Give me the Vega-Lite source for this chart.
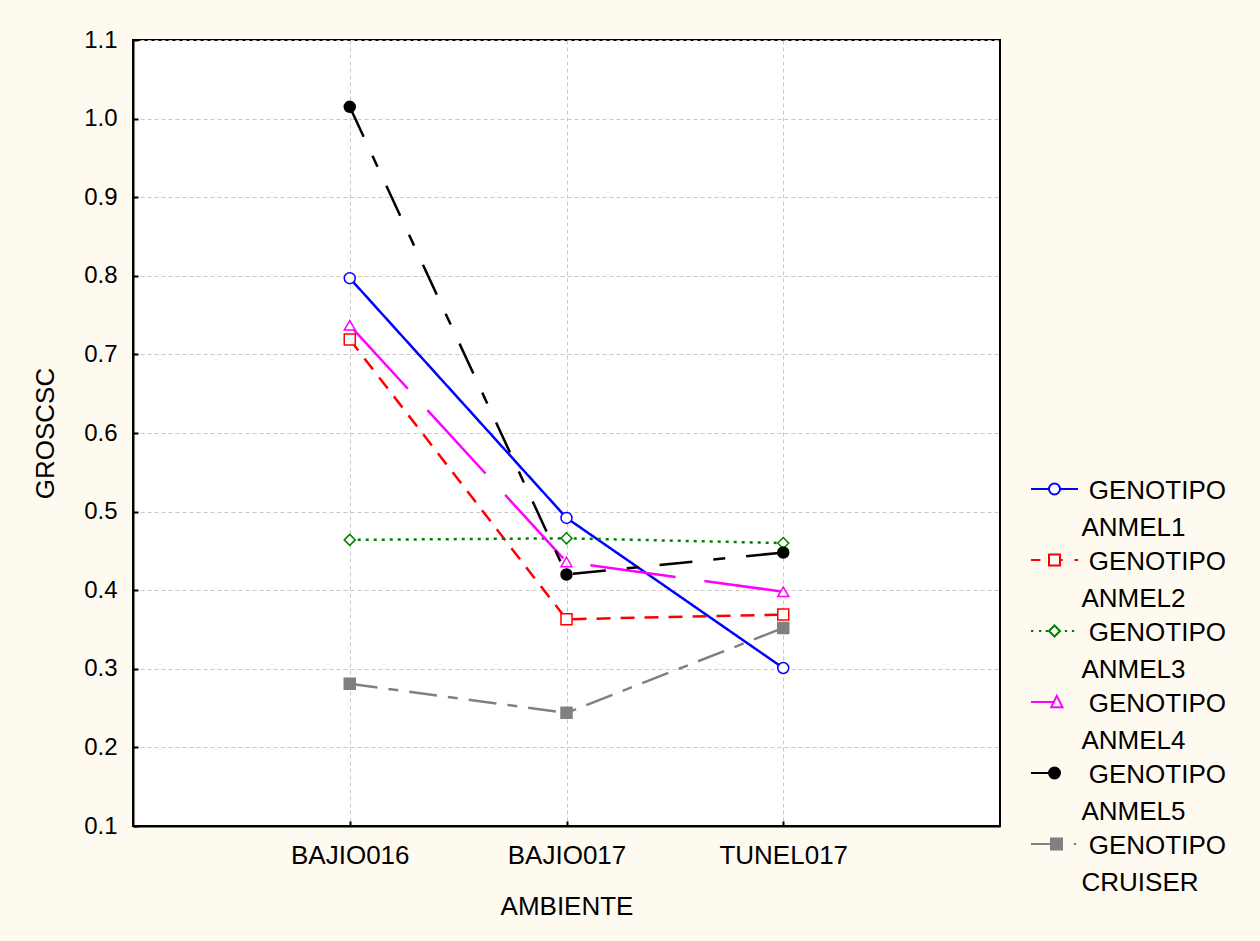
{
  "$schema": "https://vega.github.io/schema/vega-lite/v6.json",
  "width": 867,
  "height": 786,
  "autosize": {"type": "none"},
  "padding": {"left": 133, "top": 40, "right": 260, "bottom": 115},
  "background": "#fffaf0",
  "config": {
    "font": "Liberation Sans",
    "view": {"fill": "white", "stroke": "black", "strokeWidth": 2},
    "axis": {
      "domainColor": "black",
      "domainWidth": 2,
      "grid": true,
      "gridColor": "#c8c8c8",
      "gridDash": [4, 3],
      "gridWidth": 1,
      "ticks": true,
      "tickColor": "black",
      "tickWidth": 2,
      "tickSize": -5,
      "labelColor": "black",
      "titleColor": "black",
      "titleFontWeight": "normal",
      "titleFontSize": 26
    }
  },
  "data": {
    "values": [
      {"GENOTIPO": "GENOTIPO ANMEL1", "AMBIENTE": "BAJIO016", "GROSCSC": 0.797},
      {"GENOTIPO": "GENOTIPO ANMEL1", "AMBIENTE": "BAJIO017", "GROSCSC": 0.492},
      {"GENOTIPO": "GENOTIPO ANMEL1", "AMBIENTE": "TUNEL017", "GROSCSC": 0.301},
      {"GENOTIPO": "GENOTIPO ANMEL2", "AMBIENTE": "BAJIO016", "GROSCSC": 0.719},
      {"GENOTIPO": "GENOTIPO ANMEL2", "AMBIENTE": "BAJIO017", "GROSCSC": 0.363},
      {"GENOTIPO": "GENOTIPO ANMEL2", "AMBIENTE": "TUNEL017", "GROSCSC": 0.369},
      {"GENOTIPO": "GENOTIPO ANMEL3", "AMBIENTE": "BAJIO016", "GROSCSC": 0.464},
      {"GENOTIPO": "GENOTIPO ANMEL3", "AMBIENTE": "BAJIO017", "GROSCSC": 0.466},
      {"GENOTIPO": "GENOTIPO ANMEL3", "AMBIENTE": "TUNEL017", "GROSCSC": 0.460},
      {"GENOTIPO": "GENOTIPO ANMEL4", "AMBIENTE": "BAJIO016", "GROSCSC": 0.737},
      {"GENOTIPO": "GENOTIPO ANMEL4", "AMBIENTE": "BAJIO017", "GROSCSC": 0.436},
      {"GENOTIPO": "GENOTIPO ANMEL4", "AMBIENTE": "TUNEL017", "GROSCSC": 0.398},
      {"GENOTIPO": "GENOTIPO ANMEL5", "AMBIENTE": "BAJIO016", "GROSCSC": 1.015},
      {"GENOTIPO": "GENOTIPO ANMEL5", "AMBIENTE": "BAJIO017", "GROSCSC": 0.420},
      {"GENOTIPO": "GENOTIPO ANMEL5", "AMBIENTE": "TUNEL017", "GROSCSC": 0.448},
      {"GENOTIPO": "GENOTIPO CRUISER", "AMBIENTE": "BAJIO016", "GROSCSC": 0.281},
      {"GENOTIPO": "GENOTIPO CRUISER", "AMBIENTE": "BAJIO017", "GROSCSC": 0.244},
      {"GENOTIPO": "GENOTIPO CRUISER", "AMBIENTE": "TUNEL017", "GROSCSC": 0.352}
    ]
  },
  "encoding": {
    "x": {
      "field": "AMBIENTE",
      "type": "nominal",
      "scale": {"type": "point", "padding": 1, "domain": ["BAJIO016", "BAJIO017", "TUNEL017"]},
      "axis": {"labelAngle": 0, "labelFontSize": 26, "labelPadding": 21, "titlePadding": 25, "title": "AMBIENTE"}
    },
    "y": {
      "field": "GROSCSC",
      "type": "quantitative",
      "scale": {"domain": [0.1, 1.1], "nice": false, "zero": false},
      "axis": {
        "values": [0.1, 0.2, 0.3, 0.4, 0.5, 0.6, 0.7, 0.8, 0.9, 1.0, 1.1],
        "format": ".1f",
        "labelFontSize": 24,
        "labelPadding": 21,
        "titlePadding": 25,
        "title": "GROSCSC"
      }
    }
  },
  "layer": [
    {
      "mark": {"type": "line", "strokeWidth": 2.5},
      "encoding": {
        "color": {
          "field": "GENOTIPO",
          "type": "nominal",
          "scale": {
            "domain": ["GENOTIPO ANMEL1", "GENOTIPO ANMEL2", "GENOTIPO ANMEL3", "GENOTIPO ANMEL4", "GENOTIPO ANMEL5", "GENOTIPO CRUISER"],
            "range": ["#0000ff", "#ff0000", "#008000", "#ff00ff", "#000000", "#808080"]
          },
          "legend": null
        },
        "strokeDash": {
          "field": "GENOTIPO",
          "type": "nominal",
          "scale": {
            "domain": ["GENOTIPO ANMEL1", "GENOTIPO ANMEL2", "GENOTIPO ANMEL3", "GENOTIPO ANMEL4", "GENOTIPO ANMEL5", "GENOTIPO CRUISER"],
            "range": [[1, 0], [14, 10], [3, 5], [86, 29], [33, 21, 12, 21], [28, 11, 10, 11]]
          },
          "legend": null
        }
      }
    },
    {
      "mark": {"type": "point", "size": 121, "strokeWidth": 1.5, "opacity": 1},
      "encoding": {
        "shape": {
          "field": "GENOTIPO",
          "type": "nominal",
          "scale": {
            "domain": ["GENOTIPO ANMEL1", "GENOTIPO ANMEL2", "GENOTIPO ANMEL3", "GENOTIPO ANMEL4", "GENOTIPO ANMEL5", "GENOTIPO CRUISER"],
            "range": ["circle", "square", "diamond", "triangle-up", "circle", "square"]
          },
          "legend": null
        },
        "fill": {
          "field": "GENOTIPO",
          "type": "nominal",
          "scale": {
            "domain": ["GENOTIPO ANMEL1", "GENOTIPO ANMEL2", "GENOTIPO ANMEL3", "GENOTIPO ANMEL4", "GENOTIPO ANMEL5", "GENOTIPO CRUISER"],
            "range": ["#ffffff", "#ffffff", "#ffffff", "#ffffff", "#000000", "#808080"]
          },
          "legend": null
        },
        "stroke": {
          "field": "GENOTIPO",
          "type": "nominal",
          "scale": {
            "domain": ["GENOTIPO ANMEL1", "GENOTIPO ANMEL2", "GENOTIPO ANMEL3", "GENOTIPO ANMEL4", "GENOTIPO ANMEL5", "GENOTIPO CRUISER"],
            "range": ["#0000ff", "#ff0000", "#008000", "#ff00ff", "#000000", "#808080"]
          },
          "legend": null
        }
      }
    },
    {
      "mark": {"type": "point", "size": 484, "strokeWidth": 2, "opacity": 0},
      "encoding": {
        "shape": {
          "field": "GENOTIPO",
          "type": "nominal",
          "scale": {
            "domain": ["GENOTIPO ANMEL1", "GENOTIPO ANMEL2", "GENOTIPO ANMEL3", "GENOTIPO ANMEL4", "GENOTIPO ANMEL5", "GENOTIPO CRUISER"],
            "range": [
              "M-2.136,0H-0.5M0.5,0H2.136M-0.5,0A0.5,0.5,0,1,0,0.5,0A0.5,0.5,0,1,0,-0.5,0Z",
              "M-2.136,0H-1.28M0.5,0H0.75M1.82,0H2.136M-0.5,-0.5H0.5V0.5H-0.5Z",
              "M-2.136,0H-1.92M-1.41,0H-1.2M-0.81,0H-0.6M0.94,0H1.15M1.58,0H1.79M0,-0.5L0.5,0L0,0.5L-0.5,0Z",
              "M-2.136,0H-0.1M0.21,-0.56L0.73,0.47L-0.3,0.47Z",
              "M-2.136,0H-0.43M-0.5,0A0.5,0.5,0,1,0,0.5,0A0.5,0.5,0,1,0,-0.5,0Z",
              "M-2.136,0H-0.32M1.75,0H1.97M-0.32,-0.5H0.68V0.5H-0.32Z"
            ]
          },
          "legend": {
            "orient": "none",
            "legendX": 908.5,
            "legendY": 436,
            "title": null,
            "padding": 0,
            "symbolSize": 484,
            "symbolStrokeWidth": 2,
            "symbolOpacity": 1,
            "labelFontSize": 26,
            "labelColor": "black",
            "labelOffset": 14,
            "labelBaseline": "top",
            "labelLimit": 0,
            "rowPadding": 6,
            "labelExpr": "['\u200b\u00a0' + split(datum.label, ' ')[0], split(datum.label, ' ')[1]]",
            "encoding": {"labels": {"lineHeight": {"value": 37}, "dy": {"value": -11}}}
          }
        },
        "fill": {
          "field": "GENOTIPO",
          "type": "nominal",
          "scale": {
            "domain": ["GENOTIPO ANMEL1", "GENOTIPO ANMEL2", "GENOTIPO ANMEL3", "GENOTIPO ANMEL4", "GENOTIPO ANMEL5", "GENOTIPO CRUISER"],
            "range": ["#ffffff", "#ffffff", "#ffffff", "#ffffff", "#000000", "#808080"]
          }
        },
        "stroke": {
          "field": "GENOTIPO",
          "type": "nominal",
          "scale": {
            "domain": ["GENOTIPO ANMEL1", "GENOTIPO ANMEL2", "GENOTIPO ANMEL3", "GENOTIPO ANMEL4", "GENOTIPO ANMEL5", "GENOTIPO CRUISER"],
            "range": ["#0000ff", "#ff0000", "#008000", "#ff00ff", "#000000", "#808080"]
          }
        }
      }
    }
  ],
  "resolve": {"scale": {"shape": "independent", "fill": "independent", "stroke": "independent"}}
}
